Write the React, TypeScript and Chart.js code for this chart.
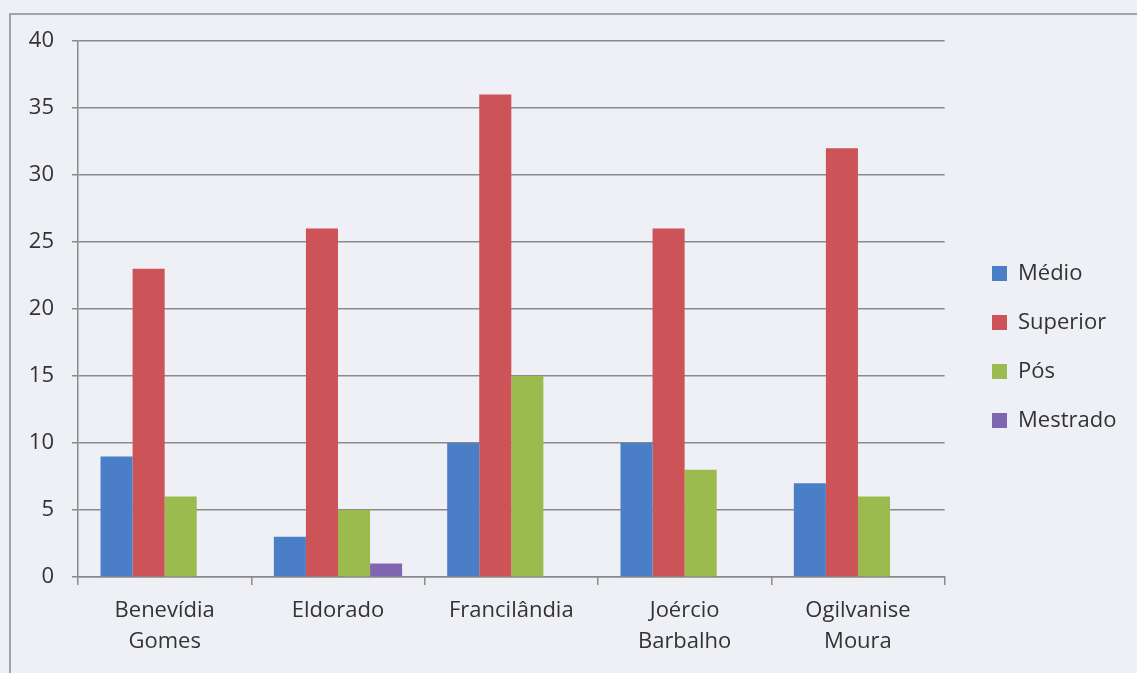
import React, { useEffect, useRef } from "react";
import { Chart, registerables } from "chart.js";

Chart.register(...registerables);

const categories: (string | string[])[] = [
  ["Benevídia", "Gomes"],
  "Eldorado",
  "Francilândia",
  ["Joércio", "Barbalho"],
  ["Ogilvanise", "Moura"],
];
const medio = [9, 3, 10, 10, 7];
const superior = [23, 26, 36, 26, 32];
const pos = [6, 5, 15, 8, 6];
const mestrado = [0, 1, 0, 0, 0];

const FONT = "'Open Sans', Lato, sans-serif";

const framePlugin = {
  id: "frame",
  beforeDraw(chart: any) {
    const ctx = chart.ctx;
    ctx.save();
    ctx.fillStyle = "#eef0f5";
    ctx.fillRect(0, 0, chart.width, chart.height);
    ctx.strokeStyle = "#8a8a8a";
    ctx.lineWidth = 1.5;
    ctx.strokeRect(10, 14, chart.width + 20, chart.height + 20);
    ctx.restore();
  },
};

const legendShift = {
  id: "legendShift",
  afterLayout(chart: any) {
    const l = chart.legend;
    if (!l) return;
    const dx = 992 - 27 - l.left;
    l.left += dx;
    l.right += dx;
    l.top -= 10;
    l.bottom -= 10;
  },
};

export default function App() {
  const ref = useRef<HTMLCanvasElement>(null);
  useEffect(() => {
    if (!ref.current) return;
    const chart = new Chart(ref.current, {
      type: "bar",
      data: {
        labels: categories,
        datasets: [
          { label: "Médio", data: medio, backgroundColor: "#4a7ec6" },
          { label: "Superior", data: superior, backgroundColor: "#cc5357" },
          { label: "Pós", data: pos, backgroundColor: "#9cbb4e" },
          { label: "Mestrado", data: mestrado, backgroundColor: "#7f66b0" },
        ],
      },
      options: {
        animation: false,
        responsive: false,
        devicePixelRatio: 1,
        layout: { padding: { top: 41, left: 0, right: 31, bottom: 0 } },
        datasets: { bar: { categoryPercentage: 0.74, barPercentage: 1 } },
        plugins: {
          legend: {
            position: "right",
            labels: {
              font: { family: FONT, size: 22 },
              color: "#333",
              boxWidth: 15,
              boxHeight: 15,
              padding: 27,
            },
          },
          tooltip: { enabled: false },
        },
        scales: {
          x: {
            afterFit(scale: any) {
              scale.height = 96;
            },
            grid: {
              drawOnChartArea: false,
              drawTicks: true,
              tickLength: 8,
              color: "#8a8a8a",
              lineWidth: 1.5,
            },
            border: { color: "#8a8a8a", width: 1.5 },
            ticks: {
              font: { family: FONT, size: 22, lineHeight: 1.42 },
              color: "#333",
              padding: 10,
              maxRotation: 0,
              autoSkip: false,
            },
          },
          y: {
            min: 0,
            max: 40,
            afterFit(scale: any) {
              scale.width = 78;
            },
            ticks: {
              stepSize: 5,
              font: { family: FONT, size: 22 },
              color: "#333",
              padding: 18,
            },
            grid: { color: "#8a8a8a", lineWidth: 1.5, tickLength: 6 },
            border: { color: "#8a8a8a", width: 1.5 },
          },
        },
      },
      plugins: [framePlugin, legendShift],
    } as any);
    return () => chart.destroy();
  }, []);
  return (
    <div style={{ position: "fixed", left: 0, top: 0, width: 1137, height: 673 }}>
      <canvas ref={ref} width={1137} height={673} style={{ display: "block" }} />
    </div>
  );
}
